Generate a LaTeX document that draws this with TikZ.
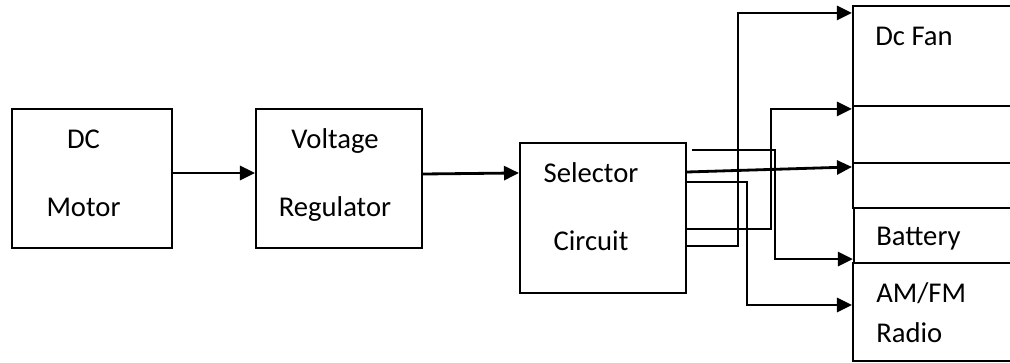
\documentclass[tikz,border=0pt]{standalone}
\usepackage{fontspec}
\setmainfont{Carlito}
\usetikzlibrary{arrows.meta,calc,positioning}

\tikzset{
	unit/.style={draw, line width=1.2pt, inner sep=0pt},
	conn/.style={line width=1.6pt, -{Triangle[length=0.3cm,width=0.28cm]}},
	lbl/.style={font=\fontsize{16.3}{38.6}\selectfont, align=center, inner sep=0pt},
	outlbl/.style={font=\fontsize{16.3}{22.7}\selectfont, align=left, inner sep=0pt, anchor=base west}
}

\begin{document}
\begin{tikzpicture}[x=0.02cm,y=-0.02cm]

	\clip (0,0) rectangle (1010,362);

	%left chain
	\node[unit, minimum width=3.2cm, minimum height=2.78cm] (motor) at (92,178.5) {};
	\node[unit, minimum width=3.32cm, minimum height=2.78cm] (reg) at (339,178.5) {};
	\node[unit, minimum width=3.32cm, minimum height=3cm] (sel) at (603,218) {};

	\node[lbl, anchor=base] (motortxt) at (83.5,216) {DC\\Motor};
	\node[lbl, anchor=base] (regtxt) at (335,216) {Voltage\\Regulator};
	\node[lbl, anchor=base] (seltxt) at (591,250) {Selector\\Circuit};

	%loads
	\node[unit, minimum width=3.34cm, minimum height=2cm] (fan) at (936.5,56) {};
	\node[unit, minimum width=3.34cm, minimum height=1.14cm] (out2) at (936.5,134.5) {};
	\node[unit, minimum width=3.34cm, minimum height=0.9cm] (out3) at (936.5,185.5) {};
	\node[unit, minimum width=3.34cm, minimum height=1.1cm] (bat) at (937.5,235.5) {};
	\node[unit, minimum width=3.34cm, minimum height=1.96cm] (radio) at (936.5,312) {};

	\node[outlbl] (fantxt) at (875,45) {Dc Fan};
	\node[outlbl] (battxt) at (876,245) {Battery};
	\node[outlbl] (radiotxt) at (876,342) {AM/FM\\Radio};

	%arrows
	\draw[conn] ($(motor.east)+(0,-5.5)$) -- ($(reg.west)+(0,-5.5)$);
	\draw[conn] ($(reg.east)+(0,-4.5)$) -- ($(sel.north west)+(0,31)$);

	\draw[conn] ($(sel.east)+(0,28)$) -- ++(51,0) |- ($(fan.north west)+(0,8)$);
	\draw[conn] ($(sel.east)+(0,11)$) -- ++(84,0) |- ($(out2.north west)+(0,4)$);
	\draw[conn] ($(sel.north east)+(5,8)$) -- ++(83,0) |- ($(bat.south west)+(0,-5)$);
	\draw[conn] ($(sel.east)+(0,-46)$) -- ($(out3.north west)+(0,5)$);
	\draw[conn] ($(sel.east)+(0,-36)$) -- ++(60,0) |- ($(radio.west)+(0,-7)$);

\end{tikzpicture}
\end{document}
